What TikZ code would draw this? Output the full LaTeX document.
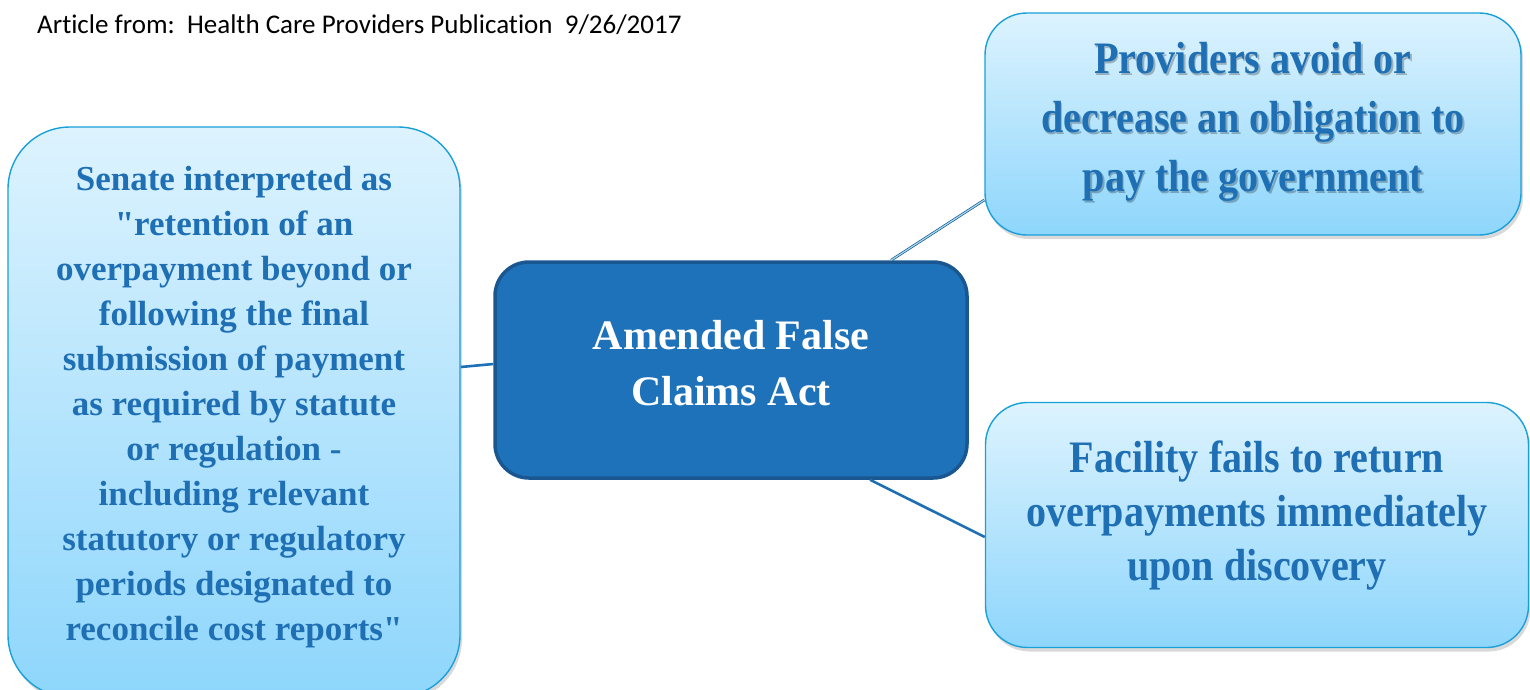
\documentclass[tikz,border=0pt]{standalone}
\usepackage{fontspec}
\setmainfont{Liberation Serif}
\newfontfamily\hdrfont[Ligatures={NoCommon}]{Carlito}
\newfontfamily\narrowfont[FakeStretch=0.89]{Liberation Serif}
\usetikzlibrary{shadows,calc}
\definecolor{txtblue}{HTML}{1F6FB5}
\definecolor{midfill}{HTML}{1E72BA}
\definecolor{midedge}{HTML}{1A5690}
\definecolor{lightedge}{HTML}{1AA0D9}
\definecolor{lighttop}{HTML}{DDF3FE}
\definecolor{lightbot}{HTML}{8ED6FC}
\definecolor{linkblue}{HTML}{1F6FB5}
\tikzset{
  lightbox/.style={rectangle, rounded corners=#1, draw=lightedge, line width=1.4pt,
    top color=lighttop, bottom color=lightbot, inner sep=0pt,
    drop shadow={opacity=0.3, shadow xshift=2pt, shadow yshift=-4pt}},
  midbox/.style={rectangle, rounded corners=34pt, draw=midedge, line width=3.5pt,
    fill=midfill, inner sep=0pt},
  leftfont/.style={align=center, text=txtblue, font=\fontsize{35}{45}\selectfont\bfseries},
  rightfont/.style={align=center, text=txtblue, font=\narrowfont\fontsize{45}{59}\selectfont\bfseries},
  midfont/.style={align=center, text=white, font=\fontsize{42}{56}\selectfont\bfseries},
  link/.style={draw=linkblue, line width=2.6pt},
  duallink/.style={draw=linkblue!80!black, double=lightedge!40!white, double distance=1.2pt, line width=0.7pt}
}
\begin{document}
\begin{tikzpicture}[x=1pt,y=-1pt]
\useasboundingbox (0,0) rectangle (1530,689);
\begin{scope}
\clip (0,0) rectangle (1530,689);
\node[anchor=base west, font=\hdrfont\fontsize{27}{30}\selectfont, inner sep=0pt] (hdr) at (37,33) {Article from:\ \ Health Care Providers Publication\ \ 9/26/2017};

\node[lightbox=62pt, minimum width=452pt, minimum height=570pt] (left) at (234,412) {};
\node[midbox, minimum width=472pt, minimum height=216pt] (mid) at (731,370) {};
\node[lightbox=42pt, minimum width=536pt, minimum height=222pt] (tr) at (1253,124) {};
\node[lightbox=42pt, minimum width=543pt, minimum height=245pt] (br) at (1257,525) {};

\draw[link] ($(left.east)+(0,-45)$) -- ($(mid.west)+(0,-6)$);
\draw[duallink] ($(mid.north)+(160,0)$) -- ($(tr.west)+(0,76)$);
\draw[link] ($(mid.south)+(139,0)$) -- ($(br.west)+(0,12)$);

\node[leftfont] (lefttext) at ($(left.center)+(0,-5)$) {Senate interpreted as\\\textquotedbl retention of an\\overpayment beyond or\\following the final\\submission of payment\\as required by statute\\or regulation -\\including relevant\\statutory or regulatory\\periods designated to\\reconcile cost reports\textquotedbl};

\node[midfont] (midtext) at ($(mid.center)+(0,-7)$) {Amended False\\Claims Act};

\node[rightfont, text=black, opacity=0.25] (trshadow) at ($(tr.center)+(1.5,0)$) {Providers avoid or\\decrease an obligation to\\pay the government};
\node[rightfont] (trtext) at ($(tr.center)+(0,-2)$) {Providers avoid or\\decrease an obligation to\\pay the government};

\node[rightfont, font=\narrowfont\fontsize{45}{54}\selectfont\bfseries] (brtext) at ($(br.center)+(0,-9)$) {Facility fails to return\\overpayments immediately\\upon discovery};
\end{scope}
\end{tikzpicture}
\end{document}
